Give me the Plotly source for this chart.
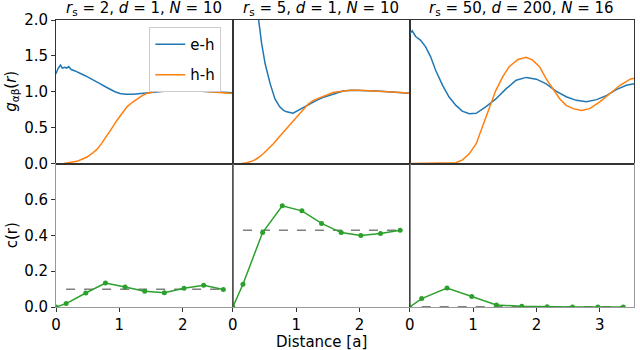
import plotly.graph_objects as go
from plotly.subplots import make_subplots

# ---- top row: pair correlation g(r) ----
eh1_x = [0.0, 0.03, 0.07, 0.10, 0.14, 0.17, 0.20, 0.24, 0.30, 0.36, 0.42, 0.49, 0.56, 0.63, 0.70,
         0.78, 0.86, 0.93, 1.01, 1.10, 1.22, 1.30, 1.38, 1.46, 1.54, 1.62, 1.75, 1.90, 2.06, 2.20,
         2.38, 2.55, 2.70, 2.79]
eh1_y = [1.25, 1.32, 1.37, 1.33, 1.34, 1.33, 1.35, 1.31, 1.29, 1.27, 1.24, 1.21, 1.18, 1.14, 1.11,
         1.07, 1.03, 1.00, 0.975, 0.965, 0.965, 0.97, 0.975, 0.985, 0.99, 1.0, 1.01, 1.015, 1.02, 1.01,
         1.0, 0.995, 0.99, 0.985]
hh1_x = [0.12, 0.20, 0.28, 0.33, 0.41, 0.49, 0.57, 0.65, 0.72, 0.80, 0.88, 0.96, 1.04, 1.12, 1.20,
         1.28, 1.36, 1.43, 1.51, 1.59, 1.70, 1.80, 1.93, 2.06, 2.17, 2.27, 2.40, 2.54, 2.66, 2.79]
hh1_y = [0.0, 0.01, 0.02, 0.03, 0.06, 0.09, 0.14, 0.20, 0.28, 0.38, 0.49, 0.60, 0.70, 0.79, 0.85,
         0.90, 0.945, 0.975, 0.995, 1.01, 1.025, 1.035, 1.03, 1.03, 1.02, 1.01, 1.0, 0.985, 0.98, 0.975]

eh2_x = [0.20, 0.30, 0.36, 0.40, 0.455, 0.51, 0.59, 0.665, 0.74, 0.80, 0.85, 0.95, 1.03, 1.10, 1.16,
         1.24, 1.32, 1.42, 1.53, 1.64, 1.74, 1.87, 2.0, 2.13, 2.26, 2.39, 2.52, 2.65, 2.785]
eh2_y = [4.0, 2.9, 2.35, 2.05, 1.67, 1.39, 1.11, 0.90, 0.79, 0.74, 0.72, 0.70, 0.74, 0.77, 0.80,
         0.84, 0.88, 0.92, 0.95, 0.98, 1.01, 1.02, 1.02, 1.015, 1.01, 1.005, 1.0, 0.99, 0.98]
hh2_x = [0.14, 0.22, 0.325, 0.40, 0.48, 0.56, 0.64, 0.72, 0.80, 0.88, 0.95, 1.03, 1.11, 1.19, 1.27,
         1.35, 1.42, 1.50, 1.58, 1.66, 1.74, 1.87, 2.0, 2.13, 2.26, 2.39, 2.52, 2.65, 2.785]
hh2_y = [0.0, 0.01, 0.04, 0.08, 0.135, 0.20, 0.275, 0.36, 0.44, 0.52, 0.60, 0.68, 0.765, 0.83, 0.88,
         0.91, 0.93, 0.96, 0.99, 1.0, 1.01, 1.02, 1.02, 1.015, 1.01, 1.0, 1.0, 0.99, 0.98]

eh3_x = [0.0, 0.04, 0.095, 0.17, 0.25, 0.33, 0.41, 0.52, 0.62, 0.73, 0.83, 0.94, 1.05, 1.20, 1.36,
         1.52, 1.68, 1.84, 2.0, 2.155, 2.31, 2.47, 2.63, 2.79, 2.95, 3.11, 3.26, 3.42, 3.54]
eh3_y = [1.81, 1.85, 1.77, 1.72, 1.63, 1.49, 1.30, 1.09, 0.93, 0.81, 0.73, 0.695, 0.70, 0.79, 0.90,
         1.04, 1.16, 1.20, 1.175, 1.11, 1.01, 0.93, 0.88, 0.86, 0.89, 0.95, 1.03, 1.09, 1.11]
hh3_x = [0.0, 0.62, 0.73, 0.835, 0.94, 1.05, 1.15, 1.26, 1.36, 1.47, 1.57, 1.71, 1.84, 1.94, 2.05,
         2.155, 2.26, 2.37, 2.47, 2.58, 2.71, 2.84, 3.0, 3.16, 3.32, 3.48, 3.54]
hh3_y = [0.0, 0.0, 0.01, 0.05, 0.135, 0.275, 0.51, 0.79, 1.02, 1.21, 1.35, 1.45, 1.48, 1.44, 1.35,
         1.18, 1.04, 0.90, 0.81, 0.765, 0.74, 0.765, 0.86, 0.975, 1.09, 1.175, 1.19]

# ---- bottom row: c(r) ----
c1_x = [0, 0.16, 0.47, 0.78, 1.09, 1.40, 1.71, 2.02, 2.33, 2.64]
c1_y = [0, 0.019, 0.078, 0.134, 0.112, 0.088, 0.080, 0.104, 0.121, 0.097]
c2_x = [0, 0.16, 0.47, 0.78, 1.09, 1.40, 1.71, 2.02, 2.33, 2.64]
c2_y = [0, 0.127, 0.415, 0.564, 0.536, 0.466, 0.415, 0.398, 0.41, 0.428]
c3_x = [0, 0.19, 0.59, 0.98, 1.37, 1.77, 2.17, 2.57, 2.97, 3.37]
c3_y = [0, 0.047, 0.106, 0.058, 0.011, 0.004, 0.001, 0.0, 0.0, 0.0]
c_means = [0.099, 0.428, 0.001]

titles = ["<i>r</i><sub>s</sub> = 2, <i>d</i> = 1, <i>N</i> = 10",
          "<i>r</i><sub>s</sub> = 5, <i>d</i> = 1, <i>N</i> = 10",
          "<i>r</i><sub>s</sub> = 50, <i>d</i> = 200, <i>N</i> = 16"]
x_max = [2.79, 2.79, 3.54]

BLUE, ORANGE, GREEN = "#1f77b4", "#ff7f0e", "#2ca02c"
FONT = "DejaVu Sans"

fig = make_subplots(rows=2, cols=3, column_widths=x_max,
                    horizontal_spacing=0, vertical_spacing=0)

tops = [(eh1_x, eh1_y, hh1_x, hh1_y), (eh2_x, eh2_y, hh2_x, hh2_y), (eh3_x, eh3_y, hh3_x, hh3_y)]
bots = [(c1_x, c1_y), (c2_x, c2_y), (c3_x, c3_y)]

for i, (ex, ey, hx, hy) in enumerate(tops):
    col = i + 1
    fig.add_trace(go.Scatter(x=ex, y=ey, mode="lines", name="e-h", legendgroup="eh",
                             line=dict(color=BLUE, width=1.5), showlegend=(i == 0)), row=1, col=col)
    fig.add_trace(go.Scatter(x=hx, y=hy, mode="lines", name="h-h", legendgroup="hh",
                             line=dict(color=ORANGE, width=1.5), showlegend=(i == 0)), row=1, col=col)

for i, (cx, cy) in enumerate(bots):
    col = i + 1
    fig.add_trace(go.Scatter(x=[cx[1], cx[-1]], y=[c_means[i]] * 2, mode="lines", showlegend=False,
                             line=dict(color="#7f7f7f", width=1.5, dash="dash")), row=2, col=col)
    fig.add_trace(go.Scatter(x=cx, y=cy, mode="lines+markers", showlegend=False,
                             line=dict(color=GREEN, width=1.5),
                             marker=dict(color=GREEN, size=5)), row=2, col=col)

for i in range(3):
    col = i + 1
    fig.update_xaxes(range=[0, x_max[i]], showline=True, mirror=True, linecolor="#333",
                     linewidth=1, showgrid=False, zeroline=False, ticks="", showticklabels=False,
                     row=1, col=col)
    fig.update_xaxes(range=[0, x_max[i]], showline=True, mirror=True, linecolor="#999",
                     linewidth=1, showgrid=False, zeroline=False, ticks="outside", ticklen=4,
                     tickcolor="#333", tickvals=list(range(int(x_max[i]) + 1)),
                     row=2, col=col)
    fig.update_yaxes(range=[0, 2], showline=True, mirror=True, linecolor="#333", linewidth=1,
                     showgrid=False, zeroline=False,
                     ticks="outside" if i == 0 else "", ticklen=4, tickcolor="#333",
                     tickvals=[0, 0.5, 1.0, 1.5, 2.0], tickformat=".1f",
                     showticklabels=(i == 0), row=1, col=col)
    fig.update_yaxes(range=[0, 0.8], showline=True, mirror=True, linecolor="#999", linewidth=1,
                     showgrid=False, zeroline=False,
                     ticks="outside" if i == 0 else "", ticklen=4, tickcolor="#333",
                     tickvals=[0, 0.2, 0.4, 0.6], tickformat=".1f",
                     showticklabels=(i == 0), row=2, col=col)

# dark separators between the panels
tot = sum(x_max)
b1 = x_max[0] / tot
b2 = (x_max[0] + x_max[1]) / tot
for xb in (b1, b2):
    fig.add_shape(type="line", xref="paper", yref="paper", x0=xb, x1=xb, y0=0, y1=1,
                  line=dict(color="#333", width=1), layer="above")
fig.add_shape(type="line", xref="paper", yref="paper", x0=0, x1=1, y0=0.5, y1=0.5,
              line=dict(color="#333", width=1), layer="above")

centres = [b1 / 2, (b1 + b2) / 2, (b2 + 1) / 2]
for t, xc in zip(titles, centres):
    fig.add_annotation(text=t, x=xc, y=1, xref="paper", yref="paper", xanchor="center",
                       yanchor="bottom", yshift=0, showarrow=False, font=dict(size=15))

fig.add_annotation(text="<i>g</i><sub>αβ</sub>(<i>r</i>)", x=-0.076, y=0.75, xref="paper",
                   yref="paper", xanchor="center", yanchor="middle", textangle=-90,
                   showarrow=False, font=dict(size=15))
fig.add_annotation(text="c(r)", x=-0.076, y=0.25, xref="paper", yref="paper",
                   xanchor="center", yanchor="middle", textangle=-90, showarrow=False,
                   font=dict(size=15))
fig.add_annotation(text="Distance [a]", x=centres[1], y=0, xref="paper", yref="paper",
                   yanchor="top", yshift=-24, showarrow=False, font=dict(size=15))

fig.update_layout(
    width=640, height=350,
    margin=dict(l=56, r=6, t=20, b=43),
    paper_bgcolor="white", plot_bgcolor="white",
    font=dict(family=FONT, size=15, color="black"),
    legend=dict(x=0.286, y=0.976, xanchor="right", yanchor="top",
                bordercolor="#cccccc", borderwidth=1, bgcolor="white",
                tracegroupgap=8, font=dict(size=15)),
)

# the page body has a default 8px margin; drop it so the figure sits at the window corner
fig.write_html("out.html", config={"displayModeBar": False},
               post_script="document.body.style.margin = '0';")
